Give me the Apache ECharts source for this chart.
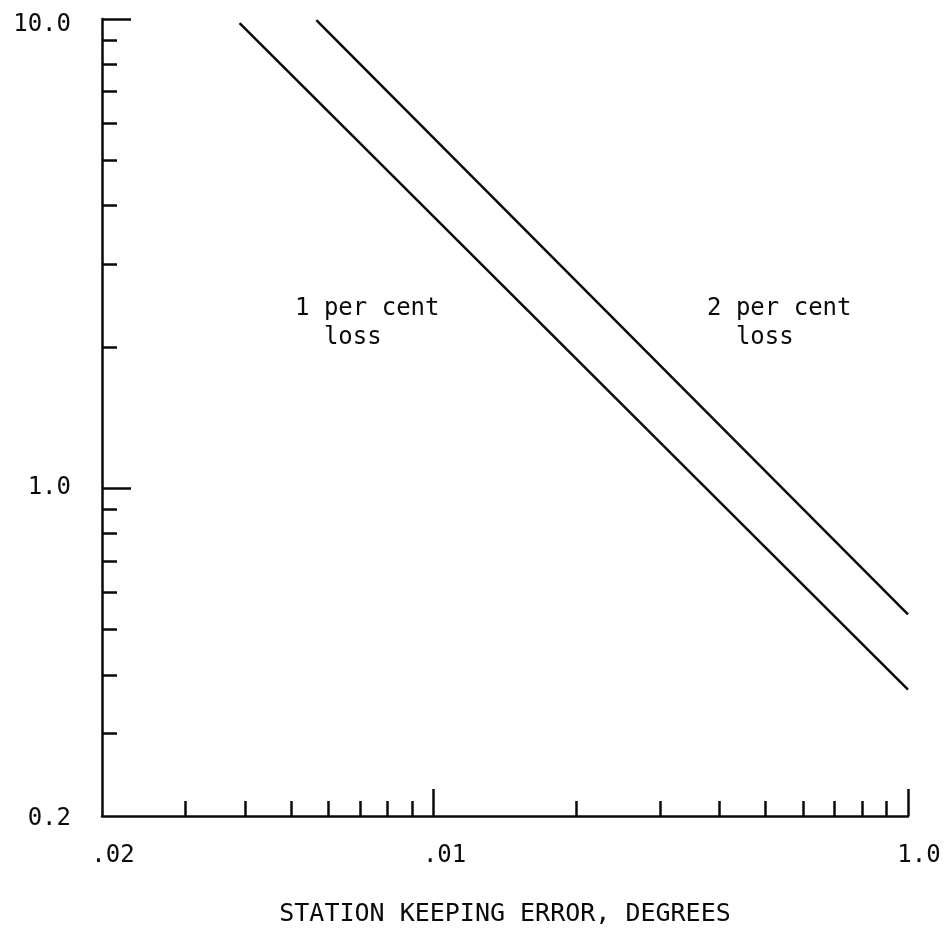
<!DOCTYPE html>
<html>
<head>
<meta charset="utf-8">
<script src="https://cdn.jsdelivr.net/npm/echarts@6/dist/echarts.min.js"></script>
<style>
html,body{margin:0;padding:0;background:#fff;}
#chart{width:945px;height:932px;}
</style>
</head>
<body>
<div id="chart"></div>
<script>
// ---- data ----
var xMin = 0.02, xMax = 1.0;
var yMin = 0.2, yMax = 10.0;
var xMajorTicks = [0.1, 1.0];
var xMinorTicks = [0.03, 0.04, 0.05, 0.06, 0.07, 0.08, 0.09, 0.2, 0.3, 0.4, 0.5, 0.6, 0.7, 0.8, 0.9];
var yMajorTicks = [1.0, 10.0];
var yMinorTicks = [0.3, 0.4, 0.5, 0.6, 0.7, 0.8, 0.9, 2, 3, 4, 5, 6, 7, 8, 9];
var xLabelValues = [0.02, 0.1, 1.0];
var xLabelTexts = ['.02', '.01', '1.0'];
var yLabelValues = [0.2, 1.0, 10.0];
var yLabelTexts = ['0.2', '1.0', '10.0'];
var loss1 = [[0.039, 9.8], [1.0, 0.372]];
var loss2 = [[0.0566, 9.94], [1.0, 0.538]];
var xTitle = 'STATION KEEPING ERROR, DEGREES';
var note1 = '1 per cent\n  loss';
var note2 = '2 per cent\n  loss';

var FONT = '"DejaVu Sans Mono", monospace';
var INK = '#0a0a0a';

function nearestIndex(values, v) {
  var best = 0, bd = Infinity;
  for (var i = 0; i < values.length; i++) {
    var d = Math.abs(Math.log(values[i]) - Math.log(v));
    if (d < bd) { bd = d; best = i; }
  }
  return best;
}

var chart = echarts.init(document.getElementById('chart'));
var grid = {left: 102, right: 37, top: 19, bottom: 113, containLabel: false};

function baseX(extra) {
  return Object.assign({
    type: 'log', logBase: 10, min: xMin, max: xMax, position: 'bottom', offset: 0,
    splitLine: {show: false}, minorTick: {show: false}, minorSplitLine: {show: false}
  }, extra);
}
function baseY(extra) {
  return Object.assign({
    type: 'log', logBase: 10, min: yMin, max: yMax, position: 'left', offset: 0,
    splitLine: {show: false}, minorTick: {show: false}, minorSplitLine: {show: false}
  }, extra);
}

var yRichKeys = ['lo', 'mid', 'hi'];

var option = {
  backgroundColor: '#fff',
  animation: false,
  grid: grid,
  xAxis: [
    baseX({
      axisLine: {show: true, lineStyle: {color: INK, width: 2.5}},
      axisTick: {show: true, inside: true, length: 15, customValues: xMinorTicks, lineStyle: {color: INK, width: 2.5}},
      axisLabel: {show: false},
      name: xTitle, nameLocation: 'middle', nameGap: 86,
      nameTextStyle: {fontFamily: FONT, fontSize: 25, color: INK}
    }),
    baseX({
      axisLine: {show: false},
      axisTick: {show: true, inside: true, length: 27, customValues: xMajorTicks, lineStyle: {color: INK, width: 2.5}},
      axisLabel: {
        show: true, customValues: xLabelValues, margin: 28,
        fontFamily: FONT, fontSize: 24, color: INK, padding: [0, 0, 0, 22],
        formatter: function (v) { return xLabelTexts[nearestIndex(xLabelValues, v)]; }
      }
    })
  ],
  yAxis: [
    baseY({
      axisLine: {show: true, lineStyle: {color: INK, width: 2.5}},
      axisTick: {show: true, inside: true, length: 15, customValues: yMinorTicks, lineStyle: {color: INK, width: 2.5}},
      axisLabel: {show: false}
    }),
    baseY({
      axisLine: {show: false},
      axisTick: {show: true, inside: true, length: 29, customValues: yMajorTicks, lineStyle: {color: INK, width: 2.5}},
      axisLabel: {
        show: true, customValues: yLabelValues, margin: 31,
        fontFamily: FONT, fontSize: 24, color: INK,
        formatter: function (v) {
          var i = nearestIndex(yLabelValues, v);
          return '{' + yRichKeys[i] + '|' + yLabelTexts[i] + '}';
        },
        rich: {
          lo: {fontFamily: FONT, fontSize: 24, color: INK, padding: [6, 0, 0, 0]},
          mid: {fontFamily: FONT, fontSize: 24, color: INK, padding: [0, 0, 0, 0]},
          hi: {fontFamily: FONT, fontSize: 24, color: INK, padding: [12, 0, 0, 0]}
        }
      }
    })
  ],
  series: [
    {type: 'line', name: '1 per cent loss', data: loss1, xAxisIndex: 0, yAxisIndex: 0,
     symbol: 'none', lineStyle: {color: INK, width: 2.5}},
    {type: 'line', name: '2 per cent loss', data: loss2, xAxisIndex: 0, yAxisIndex: 0,
     symbol: 'none', lineStyle: {color: INK, width: 2.5}}
  ],
  graphic: [
    {type: 'text', x: 295, y: 323, style: {text: note1, fontFamily: FONT, fontSize: 24, fill: INK,
      align: 'left', verticalAlign: 'middle', lineHeight: 29}},
    {type: 'text', x: 707, y: 323, style: {text: note2, fontFamily: FONT, fontSize: 24, fill: INK,
      align: 'left', verticalAlign: 'middle', lineHeight: 29}}
  ]
};
chart.setOption(option);
</script>
</body>
</html>
